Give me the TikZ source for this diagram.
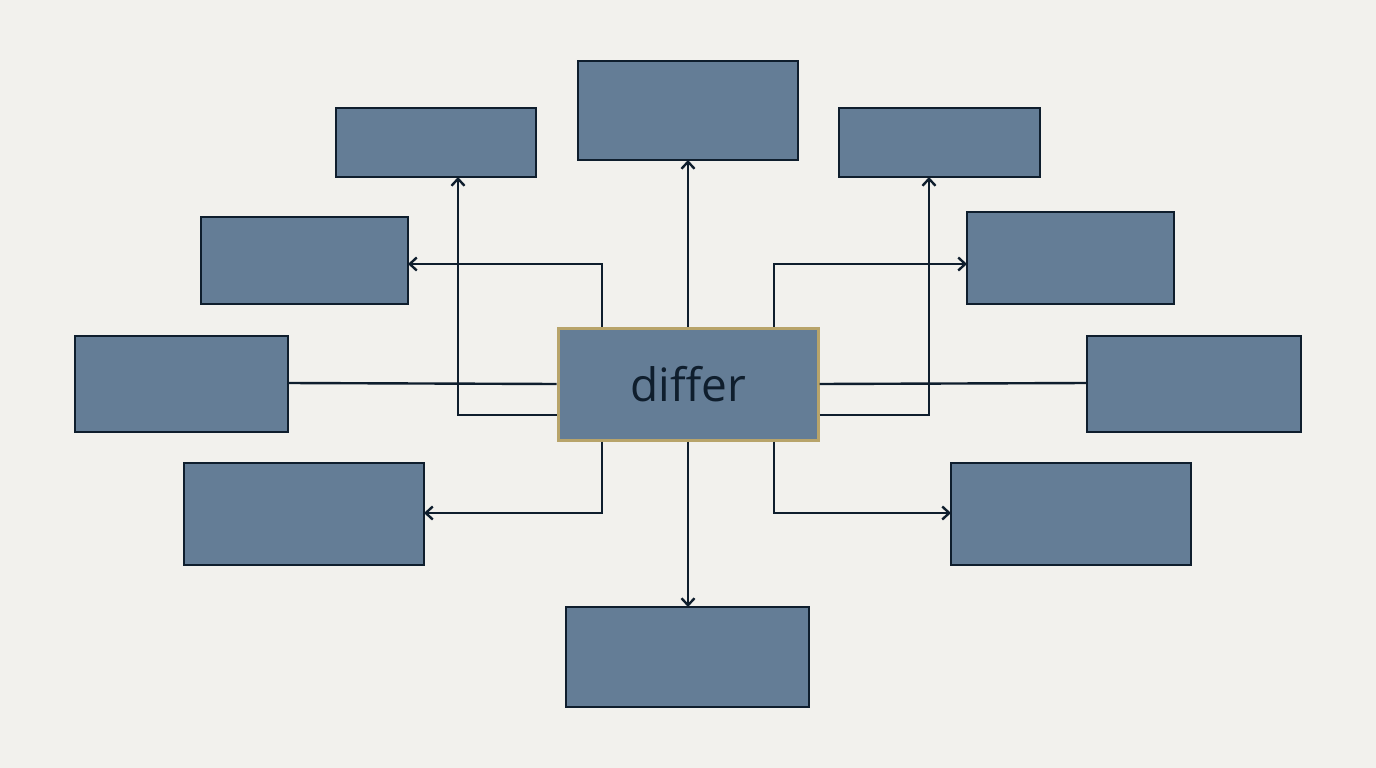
\documentclass[tikz,border=0pt]{standalone}
\usepackage{fontspec}
\setmainfont{Open Sans}
\usetikzlibrary{arrows.meta}
\definecolor{bg}{HTML}{F2F1ED}
\definecolor{boxf}{HTML}{647D96}
\definecolor{ink}{HTML}{0F1E2D}
\definecolor{gold}{HTML}{B8A46A}
\begin{document}
\begin{tikzpicture}[x=1pt,y=-1pt,
  box/.style={draw=ink,fill=boxf,line width=2.8pt},
  conn/.style={draw=ink,line width=2.4pt},
  arr/.style={conn,-{Straight Barb[length=7pt,width=13pt,line width=2.4pt]}}]
\fill[bg] (0,0) rectangle (1376,768);
\useasboundingbox (0,0) rectangle (1376,768);
\path[box] (578,61) rectangle (798,160) coordinate[pos=0.5] (tc);
\coordinate (T) at (688,160);
\path[box] (336,108) rectangle (536,177);
\coordinate (TL) at (458,177);
\path[box] (839,108) rectangle (1040,177);
\coordinate (TR) at (929,177);
\path[box] (201,217) rectangle (408,304);
\coordinate (L2) at (408,264);
\path[box] (967,212) rectangle (1174,304);
\coordinate (R2) at (967,264);
\path[box] (75,336) rectangle (288,432);
\coordinate (L3) at (288,383);
\path[box] (1087,336) rectangle (1301,432);
\coordinate (R3) at (1087,383);
\path[box] (184,463) rectangle (424,565);
\coordinate (L4) at (424,513);
\path[box] (951,463) rectangle (1191,565);
\coordinate (R4) at (951,513);
\path[box] (566,607) rectangle (809,707);
\coordinate (B) at (688,607);
\node[draw=gold,fill=boxf,line width=3pt,minimum width=260pt,minimum height=112pt,inner sep=0pt,text=ink,font=\fontsize{46}{50}\selectfont] (c) at (688,384) {differ};
\draw[arr] (c.north) -- (T);
\draw[arr] ([yshift=-31pt]c.west) -| (TL);
\draw[arr] ([xshift=-86pt]c.north) |- (L2);
\draw[arr] ([xshift=86pt]c.north) |- (R2);
\draw[arr] ([yshift=-31pt]c.east) -| (TR);
\draw[conn] (c.west) -- (L3);
\draw[conn] (c.east) -- (R3);
\draw[arr] ([xshift=-86pt]c.south) |- (L4);
\draw[arr] ([xshift=86pt]c.south) |- (R4);
\draw[arr] (c.south) -- (B);
\end{tikzpicture}
\end{document}
